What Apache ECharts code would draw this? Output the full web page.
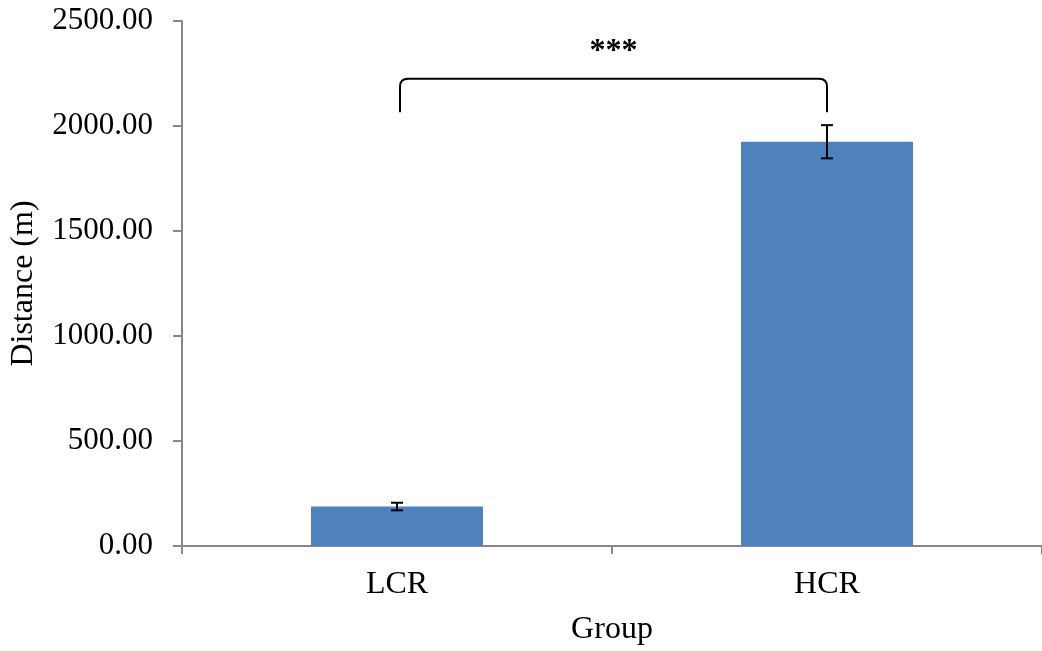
<!DOCTYPE html>
<html>
<head>
<meta charset="utf-8">
<script src="https://cdn.jsdelivr.net/npm/echarts@6/dist/echarts.min.js"></script>
<style>
html,body{margin:0;padding:0;background:#fff;}
#chart{width:1042px;height:651px;}
</style>
</head>
<body>
<div id="chart"></div>
<script>
var categories = ['LCR', 'HCR'];
var means = [188, 1925];
var errors = [18, 79];
var yMin = 0, yMax = 2500, yInterval = 500;
var bracketFrom = 0, bracketTo = 1;
var bracketTop = 2225, bracketBottom = 2065;
var sigLabel = '***';
var sigLabelY = 2355;

var FONT = '"Liberation Serif", "Times New Roman", serif';
var chart = echarts.init(document.getElementById('chart'));

var errData = means.map(function (m, i) { return [i, m - errors[i], m + errors[i]]; });

chart.setOption({
  animation: false,
  grid: { left: 181, right: 0, top: 21, bottom: 103, containLabel: false },
  xAxis: {
    type: 'category',
    data: categories,
    name: 'Group',
    nameLocation: 'middle',
    nameGap: 68,
    nameTextStyle: { fontFamily: FONT, fontSize: 32, color: '#000' },
    axisLine: { lineStyle: { color: '#888', width: 2 } },
    axisTick: { show: true, length: 8, lineStyle: { color: '#888', width: 2 } },
    axisLabel: { fontFamily: FONT, fontSize: 32, color: '#000', margin: 23 }
  },
  yAxis: {
    type: 'value',
    min: yMin, max: yMax, interval: yInterval,
    name: 'Distance (m)',
    nameLocation: 'middle',
    nameGap: 142,
    nameTextStyle: { fontFamily: FONT, fontSize: 32, color: '#000' },
    splitLine: { show: false },
    axisLine: { show: true, lineStyle: { color: '#888', width: 2 } },
    axisTick: { show: true, length: 9, lineStyle: { color: '#888', width: 2 } },
    axisLabel: {
      fontFamily: FONT, fontSize: 31, color: '#000', margin: 29,
      formatter: function (v) { return v.toFixed(2); }
    }
  },
  series: [
    {
      type: 'bar',
      data: means,
      barWidth: '40%',
      itemStyle: { color: '#4F81BD' }
    },
    {
      type: 'custom',
      data: errData,
      z: 10,
      renderItem: function (params, api) {
        var x = api.value(0);
        var lo = api.coord([x, api.value(1)]);
        var hi = api.coord([x, api.value(2)]);
        var hw = 6;
        var style = { stroke: '#000', lineWidth: 2 };
        return {
          type: 'group',
          children: [
            { type: 'line', shape: { x1: lo[0], y1: lo[1], x2: hi[0], y2: hi[1] }, style: style },
            { type: 'line', shape: { x1: lo[0] - hw, y1: lo[1], x2: lo[0] + hw, y2: lo[1] }, style: style },
            { type: 'line', shape: { x1: hi[0] - hw, y1: hi[1], x2: hi[0] + hw, y2: hi[1] }, style: style }
          ]
        };
      }
    },
    {
      type: 'custom',
      data: [[bracketFrom, bracketTo, bracketTop, bracketBottom, sigLabelY]],
      z: 10,
      renderItem: function (params, api) {
        var a = api.coord([api.value(0), api.value(2)]);
        var b = api.coord([api.value(1), api.value(2)]);
        var bot = api.coord([api.value(0), api.value(3)])[1];
        var ly = api.coord([api.value(0), api.value(4)])[1];
        var x1 = a[0] + 3, x2 = b[0], yt = a[1], r = 8;
        var path = 'M' + x1 + ' ' + bot + ' L' + x1 + ' ' + (yt + r) +
          ' Q' + x1 + ' ' + yt + ' ' + (x1 + r) + ' ' + yt +
          ' L' + (x2 - r) + ' ' + yt +
          ' Q' + x2 + ' ' + yt + ' ' + x2 + ' ' + (yt + r) +
          ' L' + x2 + ' ' + bot;
        return {
          type: 'group',
          children: [
            { type: 'path', shape: { pathData: path }, style: { stroke: '#000', lineWidth: 2, fill: null } },
            {
              type: 'text',
              style: {
                x: (x1 + x2) / 2, y: ly, text: sigLabel,
                fontFamily: FONT, fontSize: 32, fontWeight: 'bold',
                fill: '#000', align: 'center', verticalAlign: 'middle'
              }
            }
          ]
        };
      }
    }
  ]
});
</script>
</body>
</html>
